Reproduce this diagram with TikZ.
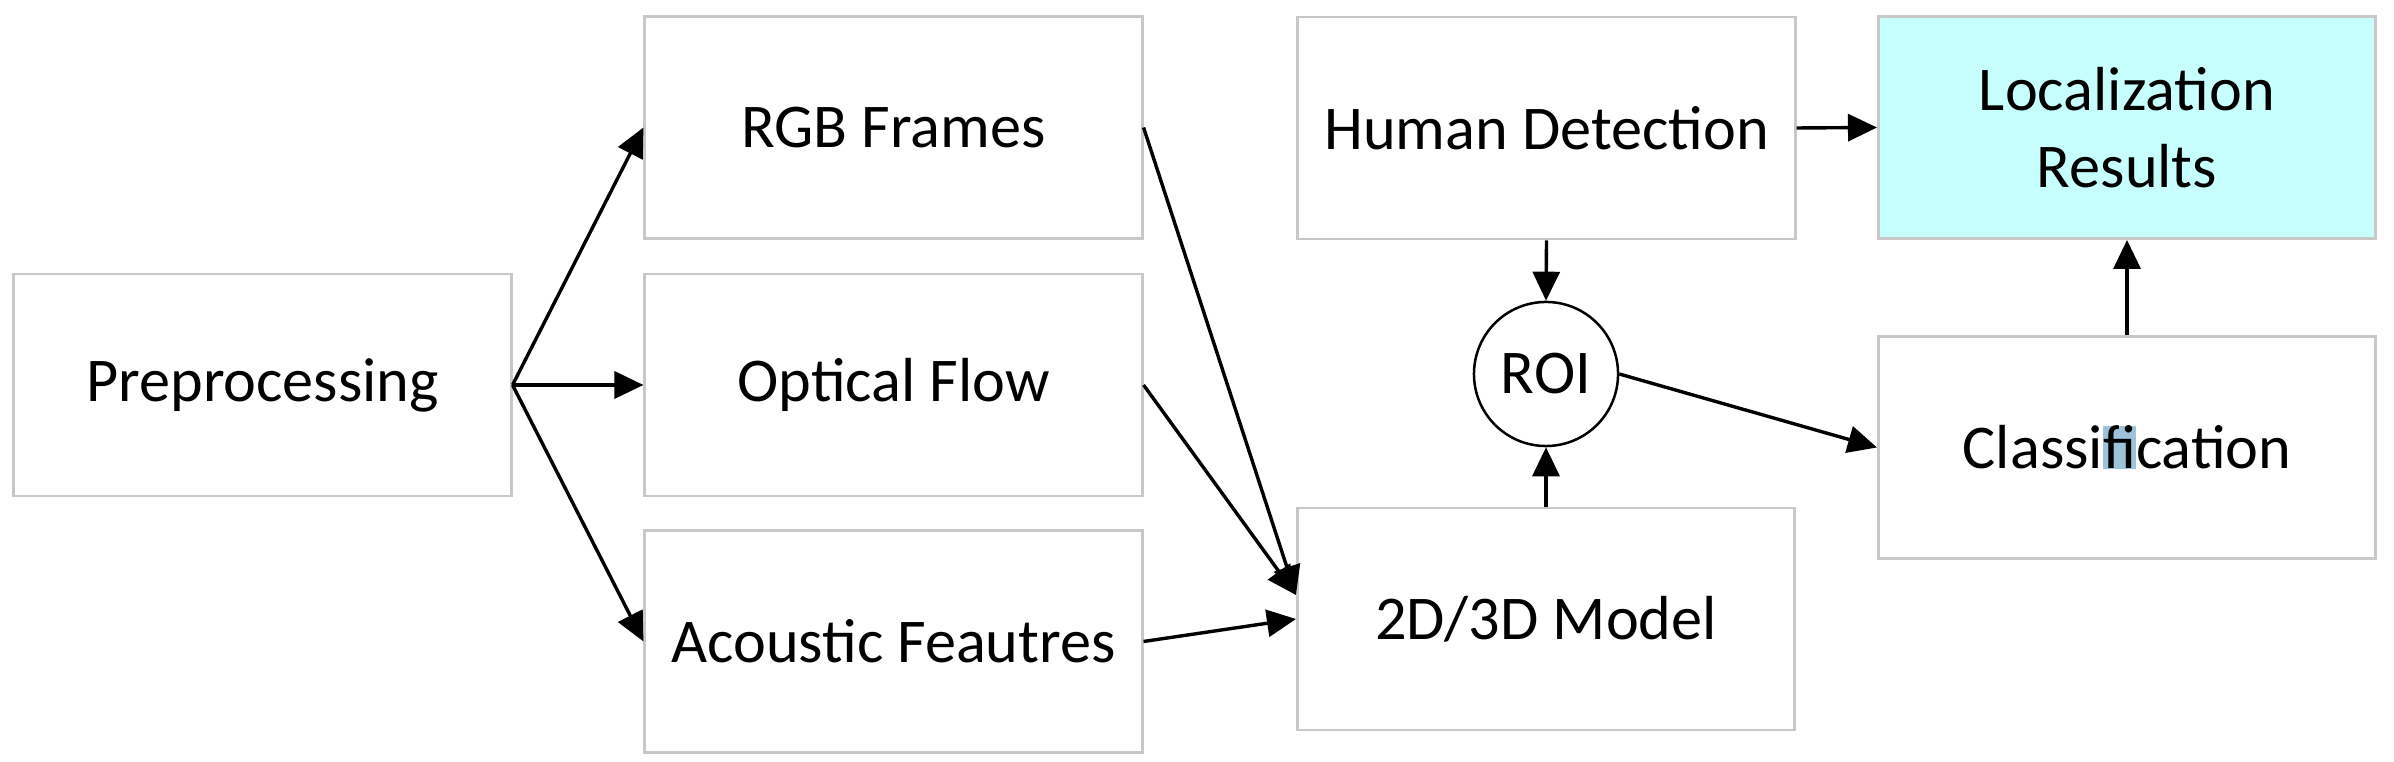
\documentclass[tikz,border=0pt]{standalone}
\usepackage{fontspec}
\setmainfont{Carlito}
\usetikzlibrary{arrows.meta}
\definecolor{boxgray}{RGB}{200,200,200}
\definecolor{loccyan}{RGB}{198,255,254}
\definecolor{selblue}{RGB}{157,195,219}
\newcommand{\diagfont}{\fontsize{17.7pt}{22pt}\selectfont}
\tikzset{
  box/.style={draw=boxgray, line width=0.028cm, minimum width=4.97cm, minimum height=2.22cm, inner sep=0pt, align=center, font=\diagfont},
  roicircle/.style={draw=black, circle, line width=0.025cm, minimum size=1.44cm, inner sep=0pt, font=\diagfont},
  conn/.style={-{Triangle[length=0.29cm,width=0.27cm]}, line width=0.034cm},
}
\begin{document}
\begin{tikzpicture}[x=0.01cm, y=-0.01cm]
\useasboundingbox (0,0) rectangle (2394,762);
\node[box] (pre) at (262.5,385) {Preprocessing};
\node[box] (rgb) at (893.5,127.5) {RGB Frames};
\node[box] (opt) at (893.5,385) {Optical Flow};
\node[box] (aco) at (893.5,641.5) {Acoustic Feautres};
\node[box] (hum) at (1546.5,128) {Human Detection};
\node[box, fill=loccyan] (loc) at (2127,127.5) {Localization\\Results};
\node[box] (cls) at (2127,447.5) {Classi{\setlength{\fboxsep}{0pt}\colorbox{selblue}{fi}}cation};
\node[box] (mdl) at (1546,619) {2D/3D Model};
\node[roicircle] (roi) at (1546,374) {ROI};
\coordinate (mdlin) at ([yshift=0.24cm]mdl.west);
\draw[conn] (pre.east) -- (rgb.west);
\draw[conn] (pre.east) -- (opt.west);
\draw[conn] (pre.east) -- (aco.west);
\draw[conn] (rgb.east) -- (mdlin);
\draw[conn] (opt.east) -- (mdlin);
\draw[conn] (aco.east) -- (mdl.west);
\draw[conn] (hum.south) -- (roi.north);
\draw[conn] (mdl.north) -- (roi.south);
\draw[conn] (roi.east) -- (cls.west);
\draw[conn] (hum.east) -- (loc.west);
\draw[conn] (cls.north) -- (loc.south);
\end{tikzpicture}
\end{document}
